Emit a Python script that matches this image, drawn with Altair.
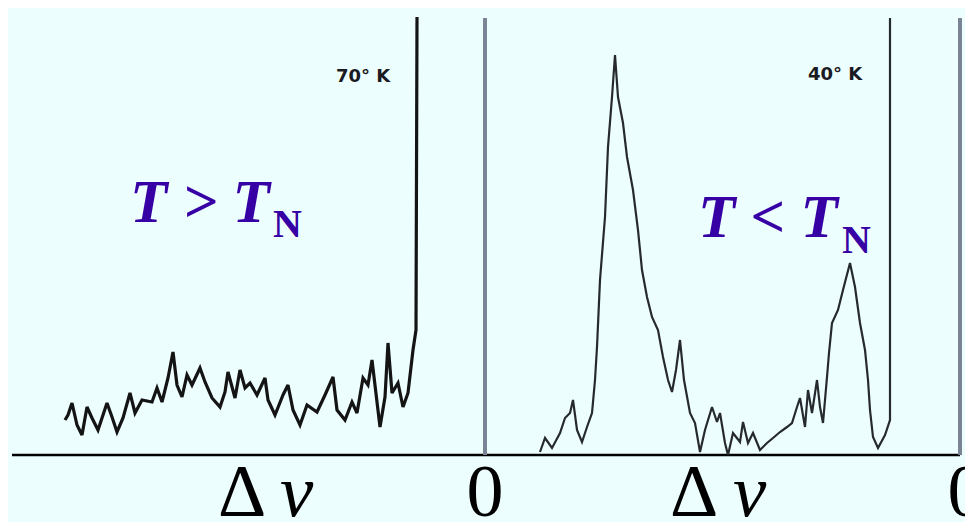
import altair as alt
import pandas as pd

# ---- spectrum above T_N (70 K), frequency offset (arb. units) vs intensity ----
P1_DV = [-42.0, -41.7, -41.3, -40.8, -40.3, -39.8, -39.3, -38.7, -37.8, -37.3,
         -36.8, -36.2, -35.5, -35.0, -34.3, -33.3, -32.8, -32.3, -31.7, -31.2,
         -30.8, -30.3, -29.8, -29.3, -28.5, -28.0, -27.3, -26.5, -26.0, -25.7,
         -25.0, -24.5, -24.0, -23.5, -22.8, -22.0, -21.7, -21.0, -20.2, -19.7,
         -19.2, -18.5, -17.8, -16.8, -16.0, -15.2, -14.8, -14.0, -13.3, -12.8,
         -12.2, -11.7, -11.3, -10.8, -10.5, -10.0, -9.7, -9.3, -8.7, -8.2,
         -7.7, -7.2, -6.9, -6.8]
P1_I = [3.5, 4.0, 5.2, 3.0, 2.0, 4.8, 3.7, 2.5, 5.2, 3.8,
        2.3, 3.7, 6.2, 4.2, 5.5, 5.3, 6.7, 5.3, 7.7, 10.3,
        7.0, 5.8, 8.0, 7.0, 8.7, 7.3, 5.7, 4.8, 6.3, 8.3,
        5.7, 8.5, 6.7, 7.2, 6.0, 7.7, 5.5, 4.0, 6.0, 7.0,
        4.5, 3.0, 5.0, 4.3, 6.0, 7.8, 4.5, 3.5, 5.3, 4.2,
        7.7, 7.0, 9.5, 5.3, 2.8, 5.8, 11.2, 6.2, 7.2, 4.8,
        6.2, 10.5, 12.5, 43.8]

# ---- spectrum below T_N (40 K) ----
P2_DV = [-42.0, -41.5, -40.8, -40.0, -39.5, -39.0, -38.7, -38.3, -37.8, -37.3,
         -36.8, -36.5, -36.3, -36.0, -35.5, -35.2, -34.8, -34.5, -34.2, -33.7,
         -33.3, -32.7, -32.2, -31.8, -31.3, -30.8, -30.2, -29.7, -29.2, -28.8,
         -28.4, -28.0, -27.6, -27.0, -26.5, -26.0, -25.5, -24.8, -24.3, -24.0,
         -23.5, -23.2, -22.7, -22.0, -21.7, -21.2, -20.7, -20.0, -19.3, -18.7,
         -18.0, -17.3, -16.8, -16.3, -16.0, -15.5, -15.2, -14.8, -14.3, -14.0,
         -13.7, -13.3, -13.1, -12.8, -12.2, -11.7, -11.0, -10.5, -10.0, -9.5,
         -9.2, -9.0, -8.7, -8.2, -7.5, -7.0, -7.0]
P2_I = [0.3, 1.7, 0.7, 2.2, 3.7, 4.2, 5.5, 2.5, 1.3, 2.8,
        4.2, 7.5, 10.8, 17.5, 23.8, 30.8, 35.8, 40.0, 35.8, 33.2,
        29.8, 26.5, 22.5, 18.5, 15.8, 13.8, 12.5, 9.8, 7.5, 6.3,
        8.5, 11.5, 7.5, 4.2, 3.2, 0.3, 2.5, 4.8, 3.3, 4.2,
        1.2, 0.0, 2.2, 1.3, 3.3, 1.2, 2.2, 0.5, 1.2, 1.7,
        2.3, 2.8, 3.2, 4.8, 5.7, 2.8, 6.5, 4.2, 7.5, 4.8,
        3.2, 7.8, 10.2, 13.2, 14.5, 16.5, 19.2, 16.8, 13.2, 10.5,
        7.5, 4.5, 1.8, 0.7, 2.0, 3.5, 43.7]

PANEL_SHIFT = [0.0, 47.5]          # where each panel's zero sits on the shared axis
PANEL_TEMP = ["70° K", "40° K"]
PANEL_STATE = ["T > T", "T < T"]
MARKER_TOP = 43.7

BG = "#EDFEFE"
INDIGO = "#3700A5"

XS = alt.Scale(domain=[-47.7, 48.0], nice=False, zero=False)
YS = alt.Scale(domain=[-6.7, 44.7], nice=False, zero=False)

spec_rows = []
for i, (d, v) in enumerate(zip(P1_DV, P1_I)):
    spec_rows.append(dict(x=d + PANEL_SHIFT[0], y=v, s="p1", i=i))
for i, (d, v) in enumerate(zip(P2_DV, P2_I)):
    spec_rows.append(dict(x=d + PANEL_SHIFT[1], y=v, s="p2", i=i))
spec = pd.DataFrame(spec_rows)

X = alt.X("x:Q", scale=XS, axis=None)
Y = alt.Y("y:Q", scale=YS, axis=None)

line1 = alt.Chart(spec[spec.s == "p1"]).mark_line(
    color="#141414", strokeWidth=3.2, strokeJoin="miter", strokeMiterLimit=3
).encode(x=X, y=Y, order="i:Q")
line2 = alt.Chart(spec[spec.s == "p2"]).mark_line(
    color="#262a30", strokeWidth=2.2, strokeJoin="miter", strokeMiterLimit=3
).encode(x=X, y=Y, order="i:Q")

base_df = pd.DataFrame({"x": [-47.3], "x2": [PANEL_SHIFT[1]], "y": [0.0]})
baseline = alt.Chart(base_df).mark_rule(color="black", strokeWidth=2.5).encode(
    x=X, x2="x2:Q", y=Y)

zero_df = pd.DataFrame({"x": PANEL_SHIFT, "y": [0.0, 0.0], "y2": [MARKER_TOP] * 2})
zeros = alt.Chart(zero_df).mark_rule(color="#7a8494", strokeWidth=4).encode(
    x=X, y=Y, y2="y2:Q")

temp_df = pd.DataFrame({"x": [-12.2, 35.0], "y": [37.3, 37.5], "t": PANEL_TEMP})
temps = alt.Chart(temp_df).mark_text(
    font="DejaVu Sans", fontWeight="bold", fontSize=18, color="#1a1a22",
    align="center", baseline="alphabetic"
).encode(x=X, y=Y, text="t:N")

state_df = pd.DataFrame({"x": [-35.5, 21.3], "y": [23.3, 21.8], "t": PANEL_STATE})
states = alt.Chart(state_df).mark_text(
    font="Liberation Serif", fontWeight="bold", fontStyle="italic", fontSize=61,
    color=INDIGO, align="left", baseline="alphabetic"
).encode(x=X, y=Y, text="t:N")

sub_df = pd.DataFrame({"x": [-21.2, 35.7], "y": [21.8, 20.2], "t": ["N", "N"]})
subs = alt.Chart(sub_df).mark_text(
    font="Liberation Serif", fontWeight="bold", fontSize=40,
    color=INDIGO, align="left", baseline="alphabetic"
).encode(x=X, y=Y, text="t:N")

delta_df = pd.DataFrame({"x": [-26.7, 18.5], "y": [-6.1, -6.1], "t": ["Δ", "Δ"]})
deltas = alt.Chart(delta_df).mark_text(
    font="Liberation Serif", fontSize=75, color="black",
    align="left", baseline="alphabetic"
).encode(x=X, y=Y, text="t:N")

nu_df = pd.DataFrame({"x": [-20.5, 24.8], "y": [-6.1, -6.1], "t": ["ν", "ν"]})
nus = alt.Chart(nu_df).mark_text(
    font="Liberation Serif", fontStyle="italic", fontSize=75, color="black",
    align="left", baseline="alphabetic"
).encode(x=X, y=Y, text="t:N")

zl_df = pd.DataFrame({"x": [0.0, 48.1], "y": [-6.1, -6.1], "t": ["0", "0"]})
zlabels = alt.Chart(zl_df).mark_text(
    font="Liberation Serif", fontSize=74, color="black",
    align="center", baseline="alphabetic"
).encode(x=X, y=Y, text="t:N")

chart = alt.layer(
    baseline, zeros, line1, line2, temps, states, subs, deltas, nus, zlabels
).properties(
    width=957, height=514, background=BG, padding=0,
    autosize=alt.AutoSizeParams(type="none"),
).configure_view(stroke=None)

chart.save("out.html", embed_options={"renderer": "svg", "actions": False})
